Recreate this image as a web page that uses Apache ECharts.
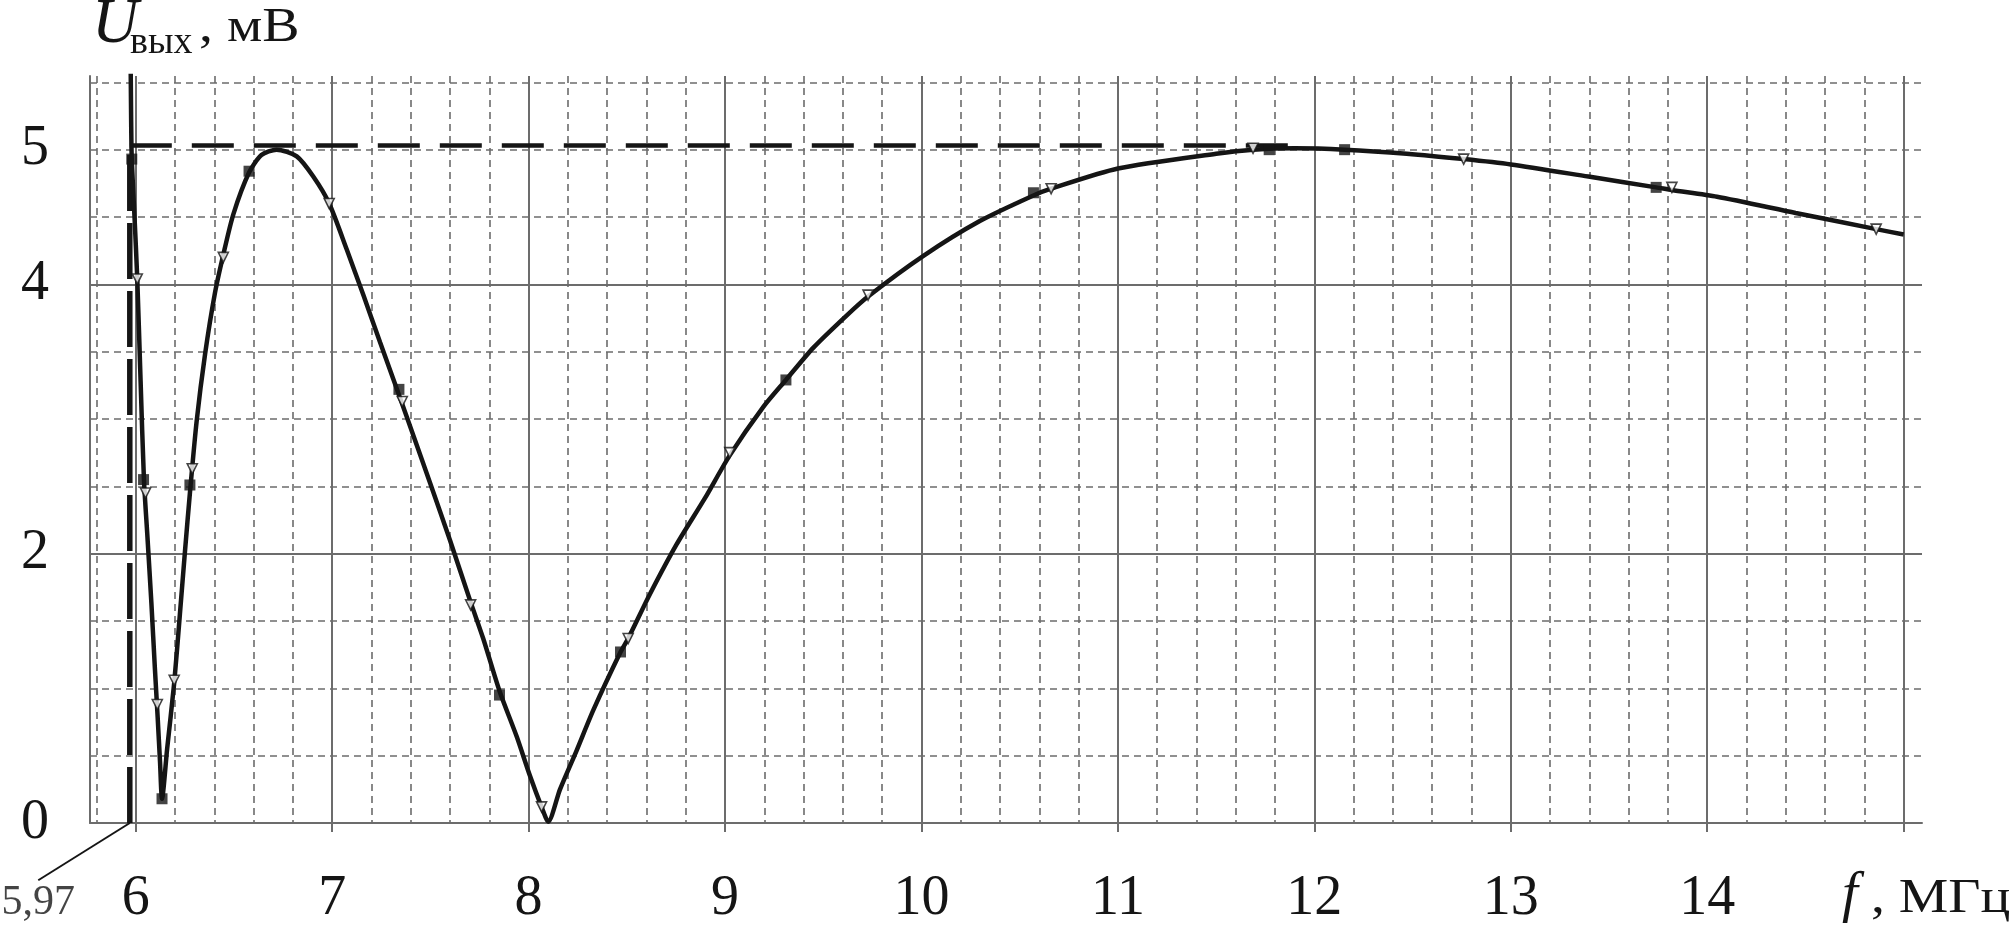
<!DOCTYPE html>
<html><head><meta charset="utf-8">
<script src="https://cdn.jsdelivr.net/npm/echarts@6/dist/echarts.min.js"></script>
<style>html,body{margin:0;padding:0;background:#fff}#c{width:2012px;height:927px}</style>
</head><body><div id="c"></div>
<script>
// ---- data (f in MHz, U in mV) ----
const curveX = [5.974, 5.977, 5.980, 5.994, 6.008, 6.025, 6.042, 6.060, 6.080, 6.098, 6.112, 6.124, 6.134,
  6.160, 6.196, 6.225, 6.251, 6.276, 6.310, 6.353, 6.404, 6.446, 6.497, 6.577, 6.640, 6.717, 6.820, 6.904,
  6.985, 7.074, 7.159, 7.244, 7.340, 7.413, 7.500, 7.600, 7.705, 7.769, 7.852, 7.940, 8.007, 8.066, 8.100,
  8.160, 8.245, 8.330, 8.468, 8.507, 8.618, 8.754, 8.897, 9.024, 9.195, 9.310, 9.450, 9.620, 9.728, 10.008,
  10.297, 10.570, 10.660, 11.000, 11.500, 11.688, 11.900, 12.154, 12.470, 12.760, 13.000, 13.395, 13.740,
  13.820, 14.050, 14.450, 14.860, 15.000];
const curveY = [5.70, 5.20, 4.93, 4.50, 4.04, 3.28, 2.55, 2.12, 1.63, 1.14, 0.78, 0.45, 0.18,
  0.55, 1.04, 1.55, 2.02, 2.45, 2.98, 3.48, 3.94, 4.22, 4.52, 4.83, 4.96, 5.00, 4.95, 4.80,
  4.60, 4.26, 3.92, 3.57, 3.18, 2.88, 2.52, 2.10, 1.64, 1.37, 0.98, 0.64, 0.35, 0.12, 0.01,
  0.25, 0.54, 0.84, 1.27, 1.37, 1.70, 2.07, 2.41, 2.73, 3.09, 3.29, 3.53, 3.77, 3.91, 4.21,
  4.47, 4.66, 4.71, 4.86, 4.97, 5.00, 5.01, 5.00, 4.97, 4.93, 4.89, 4.80, 4.72,
  4.70, 4.65, 4.53, 4.41, 4.37];

const squareX = [5.980, 6.040, 6.134, 6.276, 6.577, 7.340, 7.852, 8.468, 9.310, 10.570, 11.770, 12.154, 13.740];
const squareY = [4.93, 2.55, 0.18, 2.51, 4.84, 3.22, 0.95, 1.27, 3.29, 4.68, 5.00, 5.00, 4.72];

const triX = [6.008, 6.050, 6.110, 6.196, 6.288, 6.446, 6.985, 7.357, 7.705, 8.066, 8.507, 9.024, 9.728, 10.660,
  11.688, 12.760, 13.820, 14.860];
const triY = [4.04, 2.45, 0.88, 1.06, 2.63, 4.20, 4.60, 3.13, 1.62, 0.12, 1.37, 2.75, 3.92, 4.71,
  5.01, 4.93, 4.72, 4.41];

// reference (dashed) lines and the 5,97 leader
const refVertX = [5.97, 5.97];
const refVertY = [0, 5.03];
const refHorX = [5.97, 11.9];
const refHorY = [5.03, 5.03];
const leaderX = [5.97, 5.504];
const leaderY = [0, -0.425];
const leaderText = '5,97';

// axes
const xMin = 5.7674, xMax = 15.0932;
const yMin = 0, yMax = 5.547;
const xMajorValues = [6, 7, 8, 9, 10, 11, 12, 13, 14, 15];
const xLabelValues = [6, 7, 8, 9, 10, 11, 12, 13, 14];
const xMinorValues = [5.8, 6.2, 6.4, 6.6, 6.8, 7.2, 7.4, 7.6, 7.8, 8.2, 8.4, 8.6, 8.8, 9.2, 9.4, 9.6, 9.8,
  10.2, 10.4, 10.6, 10.8, 11.2, 11.4, 11.6, 11.8, 12.2, 12.4, 12.6, 12.8, 13.2, 13.4, 13.6, 13.8,
  14.2, 14.4, 14.6, 14.8];
const yMajorValues = [0, 2, 4];
const yMinorValues = [0.5, 1, 1.5, 2.5, 3, 3.5, 4.5, 5, 5.5];
const yLabelValues = [0, 2, 4, 5];

const yTitleMain = 'U', yTitleSub = 'вых', yTitleUnit = ', мВ';
const xTitleMain = 'f', xTitleUnit = ', МГц';

// ---- chart ----
const SERIF = '"Liberation Serif", "Times New Roman", serif';
const GRID = '#6c6c6c';
const INK = '#151515';
const zip = (a, b) => a.map((v, i) => [v, b[i]]);

const chart = echarts.init(document.getElementById('c'), null, {renderer: 'canvas'});
const option = {
  animation: false,
  backgroundColor: '#fff',
  grid: {left: 90, right: 90, top: 76, bottom: 100, containLabel: false},
  xAxis: [
    {type: 'value', min: xMin, max: xMax,
     axisLine: {show: true, lineStyle: {color: GRID, width: 2}},
     axisTick: {show: true, customValues: xMajorValues, length: 9, inside: false, lineStyle: {color: GRID, width: 2}},
     axisLabel: {show: true, customValues: xLabelValues, margin: 48, color: INK, fontFamily: SERIF, fontSize: 56,
                 formatter: v => String(v)},
     splitLine: {show: true, lineStyle: {color: GRID, width: 2, type: 'solid'}}},
    {type: 'value', min: xMin, max: xMax, position: 'bottom',
     axisLine: {show: false}, axisLabel: {show: false},
     axisTick: {show: false, customValues: xMinorValues},
     splitLine: {show: true, lineStyle: {color: GRID, width: 1.6, type: [7, 5]}}}
  ],
  yAxis: [
    {type: 'value', min: yMin, max: yMax,
     axisLine: {show: true, lineStyle: {color: GRID, width: 2}},
     axisTick: {show: false, customValues: yMajorValues},
     axisLabel: {show: true, customValues: yLabelValues, margin: 41, color: INK, fontFamily: SERIF, fontSize: 56,
                 formatter: v => String(v)},
     splitLine: {show: true, lineStyle: {color: GRID, width: 2, type: 'solid'}}},
    {type: 'value', min: yMin, max: yMax, position: 'left',
     axisLine: {show: false}, axisLabel: {show: false},
     axisTick: {show: false, customValues: yMinorValues},
     splitLine: {show: true, lineStyle: {color: GRID, width: 1.6, type: [7, 5]}}}
  ],
  series: [
    {type: 'line', name: 'refV', data: zip(refVertX, refVertY), symbol: 'none', z: 3,
     lineStyle: {color: INK, width: 5.5, type: [56, 12], cap: 'butt'}},
    {type: 'line', name: 'refH', data: zip(refHorX, refHorY), symbol: 'none', z: 3,
     lineStyle: {color: INK, width: 4.5, type: [42, 20], cap: 'butt'}},
    {type: 'scatter', name: 'leaderLabel', data: [[leaderX[1], leaderY[1]]], clip: false, symbolSize: 0,
     label: {show: true, position: 'bottom', distance: 2, formatter: leaderText, color: INK, fontFamily: SERIF, fontSize: 42}},
    {type: 'line', name: 'U', data: zip(curveX, curveY), symbol: 'none', smooth: 0.25, z: 4,
     lineStyle: {color: INK, width: 4.5}},
    {type: 'scatter', name: 'sq', data: zip(squareX, squareY), symbol: 'rect', symbolSize: 11, z: 5,
     itemStyle: {color: INK}},
    {type: 'scatter', name: 'tri', data: zip(triX, triY), symbol: 'triangle', symbolRotate: 180, symbolSize: 10, z: 5,
     itemStyle: {color: '#fff', borderColor: INK, borderWidth: 1.6}}
  ]
};
chart.setOption(option);

// leader line (goes outside the plot area, so it is drawn as a graphic placed through the axes' own scale)
const p0 = chart.convertToPixel({xAxisIndex: 0, yAxisIndex: 0}, [leaderX[0], leaderY[0]]);
const p1 = chart.convertToPixel({xAxisIndex: 0, yAxisIndex: 0}, [leaderX[1], leaderY[1]]);
const txt = (x, y, text, font, sx) => ({type: 'text', x: x, y: y, scaleX: sx || 1, z: 10,
  style: {text: text, font: font, fill: INK, align: 'left', verticalAlign: 'top'}});
chart.setOption({
  graphic: [
    {type: 'line', z: 10, shape: {x1: p0[0], y1: p0[1], x2: p1[0], y2: p1[1]}, style: {stroke: INK, lineWidth: 2}},
    txt(92, -7, yTitleMain, 'italic 64px ' + SERIF),
    txt(130, 24, yTitleSub, '38px ' + SERIF),
    txt(199, 4, yTitleUnit, '49px ' + SERIF, 1.14),
    txt(1842, 868, xTitleMain, 'italic 57px ' + SERIF),
    txt(1871, 875, xTitleUnit, '48px ' + SERIF, 1.16)
  ]
});
</script></body></html>
